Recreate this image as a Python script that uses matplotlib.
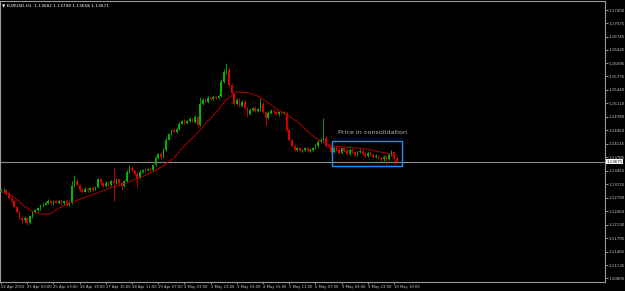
import numpy as np
import matplotlib
matplotlib.use("Agg")
import matplotlib.pyplot as plt
from matplotlib.patches import Rectangle
import matplotlib.transforms as mtransforms

# EURUSD H1 closes (one entry per candle)
closes = [
    1.1297, 1.1299, 1.1289, 1.1279, 1.1270, 1.1257, 1.1245, 1.1230, 1.1223, 1.1228,
    1.1218, 1.1233, 1.1243, 1.1248, 1.1253, 1.1260, 1.1262, 1.1267, 1.1272, 1.1265,
    1.1270, 1.1267, 1.1272, 1.1265, 1.1270, 1.1262, 1.1267, 1.1309, 1.1321, 1.1311,
    1.1299, 1.1294, 1.1301, 1.1297, 1.1304, 1.1299, 1.1306, 1.1324, 1.1314, 1.1309,
    1.1316, 1.1311, 1.1321, 1.1316, 1.1324, 1.1314, 1.1309, 1.1319, 1.1343, 1.1353,
    1.1346, 1.1338, 1.1328, 1.1343, 1.1348, 1.1346, 1.1350, 1.1348, 1.1360, 1.1377,
    1.1387, 1.1380, 1.1397, 1.1422, 1.1436, 1.1446, 1.1441, 1.1448, 1.1461, 1.1468,
    1.1463, 1.1468, 1.1473, 1.1466, 1.1478, 1.1458, 1.1510, 1.1520, 1.1515, 1.1524,
    1.1522, 1.1527, 1.1524, 1.1529, 1.1564, 1.1588, 1.1593, 1.1556, 1.1537, 1.1510,
    1.1520, 1.1505, 1.1515, 1.1500, 1.1485, 1.1495, 1.1500, 1.1493, 1.1497, 1.1510,
    1.1490, 1.1475, 1.1488, 1.1493, 1.1490, 1.1485, 1.1490, 1.1488, 1.1488, 1.1446,
    1.1422, 1.1407, 1.1397, 1.1400, 1.1395, 1.1397, 1.1400, 1.1395, 1.1397, 1.1402,
    1.1407, 1.1417, 1.1422, 1.1426, 1.1407, 1.1404, 1.1392, 1.1402, 1.1397, 1.1390,
    1.1400, 1.1395, 1.1387, 1.1397, 1.1392, 1.1385, 1.1392, 1.1395, 1.1387, 1.1382,
    1.1390, 1.1385, 1.1380, 1.1382, 1.1377, 1.1373, 1.1380, 1.1375, 1.1385, 1.1392,
    1.1377, 1.13671,
]
first_open = 1.1295

# wick lengths in pips above / below the candle body
upper_pips = [
    4, 3, 2, 3, 2, 3, 2, 4, 3, 5,  3, 4, 2, 3, 4, 2, 3, 3, 4, 2,
    3, 4, 2, 3, 2, 4, 3, 10, 14, 3,  2, 3, 4, 3, 2, 4, 3, 4, 3, 2,
    3, 4, 2, 32, 3, 2, 4, 3, 5, 7,  3, 2, 4, 3, 2, 3, 2, 4, 3, 4,
    3, 4, 3, 5, 2, 3, 4, 3, 4, 3,  4, 3, 5, 3, 4, 2, 17, 4, 3, 4,
    3, 4, 3, 5, 6, 8, 17, 5, 4, 3,  4, 3, 4, 3, 2, 4, 3, 4, 3, 14,
    4, 3, 5, 3, 4, 2, 3, 4, 3, 2,  3, 2, 3, 4, 3, 2, 3, 4, 3, 2,
    3, 4, 3, 49, 4, 3, 5, 3, 4, 3,  4, 3, 5, 3, 4, 3, 2, 4, 3, 5,
    3, 4, 3, 4, 3, 2, 4, 3, 3, 5, 3, 2,
]
lower_pips = [
    3, 4, 3, 2, 4, 3, 4, 3, 5, 4,  6, 3, 4, 2, 3, 4, 3, 2, 4, 3,
    3, 2, 4, 3, 3, 4, 3, 3, 4, 3,  4, 3, 2, 3, 4, 3, 2, 3, 4, 3,
    3, 4, 3, 46, 3, 4, 10, 3, 2, 3,  4, 3, 22, 3, 4, 3, 2, 4, 3, 3,
    4, 8, 3, 3, 2, 4, 3, 4, 3, 2,  3, 4, 3, 2, 4, 5, 3, 3, 4, 3,
    3, 4, 3, 2, 3, 3, 4, 4, 4, 3,  4, 3, 4, 3, 7, 3, 4, 3, 3, 4,
    3, 17, 3, 4, 3, 3, 4, 3, 3, 5,  4, 3, 4, 3, 3, 4, 3, 3, 4, 3,
    3, 4, 3, 3, 4, 3, 4, 3, 4, 3,  3, 4, 3, 4, 3, 4, 3, 3, 4, 3,
    4, 3, 4, 3, 4, 3, 4, 13, 3, 3, 15, 3,
]

# moving average line, read at a few bars
ma_bars = [0, 3, 6, 9, 12, 16, 19, 22, 26, 30, 34, 38, 42, 46, 50, 54, 58, 62, 66,
           70, 74, 78, 82, 86, 90, 94, 98, 102, 106, 110, 114, 118, 122, 126, 130,
           134, 138, 142, 146, 151]
ma_vals = [1.1294, 1.1289, 1.1275, 1.1257, 1.1245, 1.1238, 1.1240, 1.1253, 1.1265,
           1.1275, 1.1284, 1.1294, 1.1304, 1.1311, 1.1321, 1.1331, 1.1343, 1.1358,
           1.1377, 1.1407, 1.1431, 1.1461, 1.1488, 1.1520, 1.1539, 1.1537, 1.1529,
           1.1512, 1.1493, 1.1480, 1.1461, 1.1436, 1.1417, 1.1407, 1.1404, 1.1402,
           1.1400, 1.1395, 1.1390, 1.1382]

price_ticks = [1.17400, 1.17075, 1.16745, 1.16425, 1.16095, 1.15775, 1.15440,
               1.15110, 1.14780, 1.14450, 1.14115, 1.13785, 1.13455, 1.13125,
               1.12790, 1.12460, 1.12130, 1.11795, 1.11465, 1.11135, 1.10805]
time_labels = ["22 Apr 2016", "25 Apr 03:00", "25 Apr 23:00", "26 Apr 19:00",
               "27 Apr 15:00", "28 Apr 11:00", "29 Apr 07:00", "2 May 03:00",
               "2 May 23:00", "3 May 19:00", "4 May 15:00", "5 May 11:00",
               "6 May 07:00", "9 May 03:00", "9 May 23:00", "10 May 19:00"]
last_price = 1.13671
header = "\u25bc EURUSD,H1  1.13682 1.13708 1.13658 1.13671"

closes = np.array(closes)
opens = np.concatenate([[first_open], closes[:-1]])
highs = np.maximum(opens, closes) + np.array(upper_pips) * 0.0001
lows = np.minimum(opens, closes) - np.array(lower_pips) * 0.0001
x = np.arange(len(closes))

fig = plt.figure(figsize=(6.25, 2.91), dpi=100, facecolor="black")
ax = fig.add_axes([0.0, 0.03, 0.968, 0.966])
ax.set_facecolor("black")

up = closes >= opens
colors = np.where(up, "#00b400", "#e00000")
ax.vlines(x, lows, highs, colors=colors, linewidth=0.6, zorder=2)
body = np.maximum(np.abs(closes - opens), 0.00006)
ax.bar(x, body, bottom=np.minimum(opens, closes), width=0.62,
       color=colors, linewidth=0, zorder=3)

ax.plot(ma_bars, ma_vals, color="#b00000", linewidth=0.7, zorder=4)

ax.axhline(last_price, color="#8c8c8c", linewidth=0.8, zorder=1)

ax.add_patch(Rectangle((126.3, 1.13577), 26.6, 0.00613, fill=False,
                       edgecolor="#1e90ff", linewidth=1.0, zorder=5))
ax.text(128.6, 1.14387, "Price in consolidation", color="#b4b4b4",
        fontsize=4.6, va="center", ha="left", zorder=6)

ax.set_xlim(-0.4, 230.5)
ax.set_ylim(1.10712, 1.17620)

for s in ax.spines.values():
    s.set_color("#9a9a9a")
    s.set_linewidth(0.8)

ax.yaxis.tick_right()
ax.set_yticks(price_ticks)
ax.set_yticklabels([f"{p:.5f}" for p in price_ticks])
ax.tick_params(axis="y", colors="#c8c8c8", labelsize=2.9, length=2.0,
               width=0.5, pad=0.8)
ax.set_xticks(x[::10][:len(time_labels)])
ax.set_xticklabels(time_labels, ha="left")
ax.tick_params(axis="x", colors="#c8c8c8", labelsize=2.7, length=1.5,
               width=0.5, pad=0.5)

trans = mtransforms.blended_transform_factory(ax.transAxes, ax.transData)
ax.text(1.002, last_price, f"{last_price:.5f}", transform=trans, fontsize=2.9,
        color="black", va="center", ha="left", zorder=10,
        bbox=dict(boxstyle="square,pad=0.15", facecolor="white", edgecolor="none"))

ax.text(0.003, 0.99, header, transform=ax.transAxes, color="white",
        fontsize=3.1, va="top", ha="left")

fig.savefig("out.png", dpi=100, facecolor="black")
